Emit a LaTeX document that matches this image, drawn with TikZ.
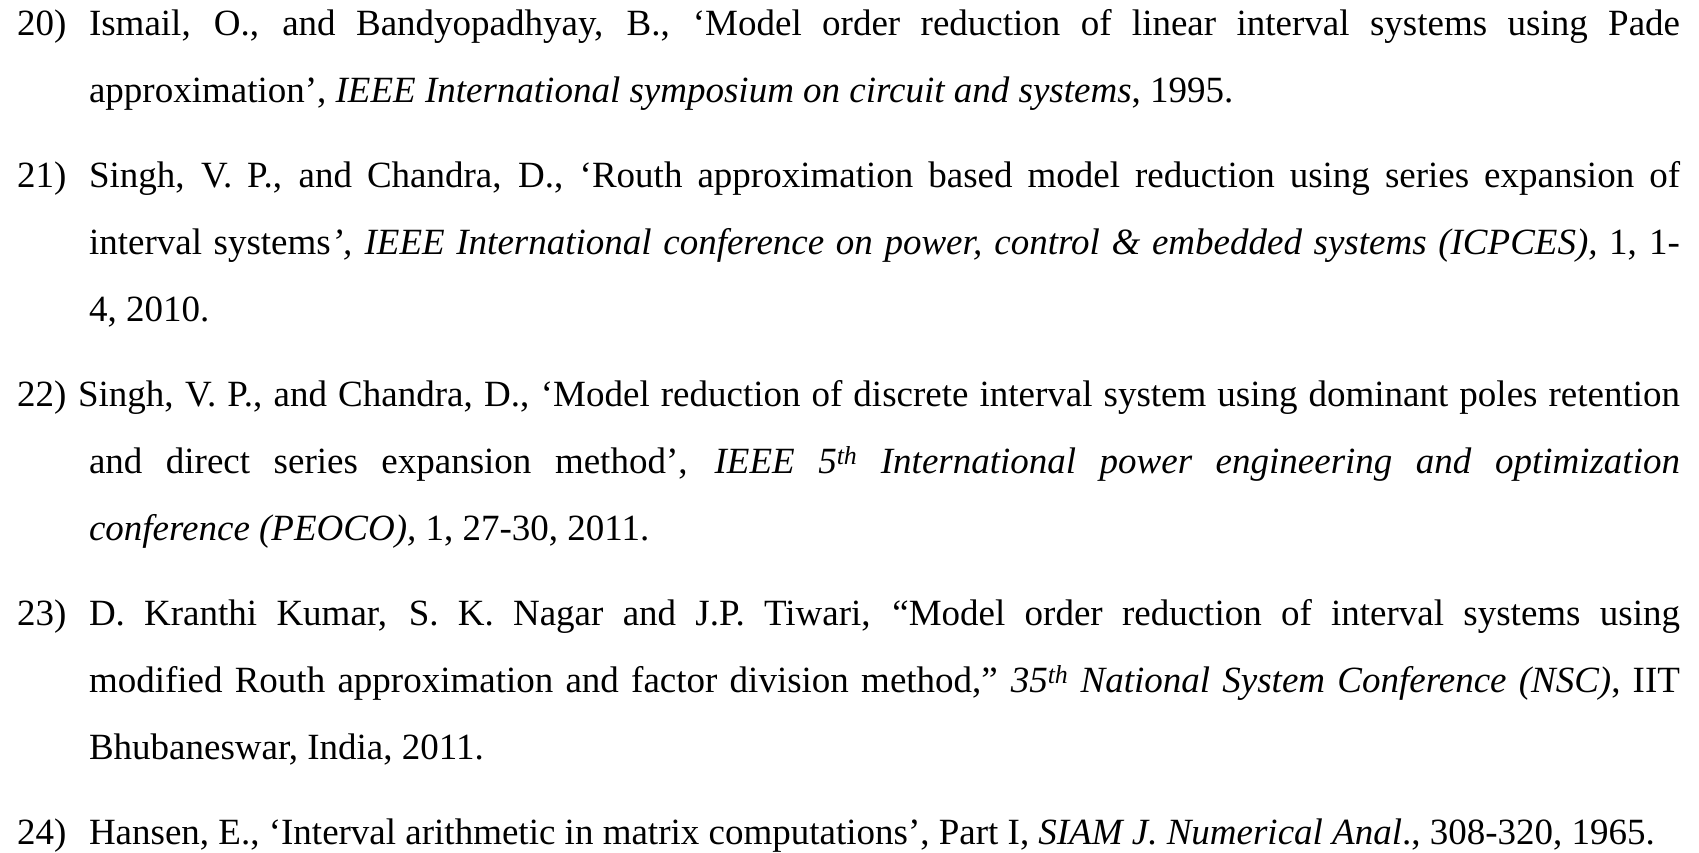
\documentclass[tikz,border=0pt]{standalone}
\usepackage{fontspec}
\setmainfont{Liberation Serif}
\newlength\refW
\setlength\refW{1591pt}
\newlength\refWb
\setlength\refWb{1602pt}
\begin{document}
\begin{tikzpicture}[x=1pt,y=1pt,
  reftext/.style={anchor=base west,inner sep=0pt,outer sep=0pt,font=\fontsize{37pt}{44pt}\selectfont},
  refnum/.style={anchor=base west,inner sep=0pt,outer sep=0pt,font=\fontsize{37pt}{44pt}\selectfont}]
\useasboundingbox[fill=white] (0,0) rectangle (1699,853);
% entry 20
\node[refnum] (n20) at (17,817) {20)};
\node[reftext] (l1) at (89,817) {\hbox to \refW{Ismail, O., and Bandyopadhyay, B., ‘Model order reduction of linear interval systems using Pade}};
\node[reftext] (l2) at (89,750) {approximation’, \textit{IEEE International symposium on circuit and systems}, 1995.};
% entry 21
\node[refnum] (n21) at (17,665) {21)};
\node[reftext] (l3) at (89,665) {\hbox to \refW{Singh, V. P., and Chandra, D., ‘Routh approximation based model reduction using series expansion of}};
\node[reftext] (l4) at (89,598) {\hbox to \refW{interval systems\textit{’, IEEE International conference on power, control \& embedded systems (ICPCES),} 1, 1-}};
\node[reftext] (l5) at (89,531) {4, 2010.};
% entry 22
\node[refnum] (n22) at (17,446) {22)};
\node[reftext] (l6) at (78,446) {\hbox to \refWb{Singh, V. P., and Chandra, D., ‘Model reduction of discrete interval system using dominant poles retention}};
\node[reftext] (l7) at (89,379) {\hbox to \refW{and direct series expansion method’, \textit{IEEE 5\textsuperscript{th} International power engineering and optimization}}};
\node[reftext] (l8) at (89,312) {\textit{conference (PEOCO),} 1, 27-30, 2011.};
% entry 23
\node[refnum] (n23) at (17,227) {23)};
\node[reftext] (l9) at (89,227) {\hbox to \refW{D. Kranthi Kumar, S. K. Nagar and J.P. Tiwari, “Model order reduction of interval systems using}};
\node[reftext] (l10) at (89,160) {\hbox to \refW{modified Routh approximation and factor division method,” \textit{35\textsuperscript{th} National System Conference (NSC)}, IIT}};
\node[reftext] (l11) at (89,93) {Bhubaneswar, India, 2011.};
% entry 24
\node[refnum] (n24) at (17,8) {24)};
\node[reftext] (l12) at (89,8) {Hansen, E., ‘Interval arithmetic in matrix computations’, Part I, \textit{SIAM J. Numerical Anal}., 308-320, 1965.};
\end{tikzpicture}
\end{document}
